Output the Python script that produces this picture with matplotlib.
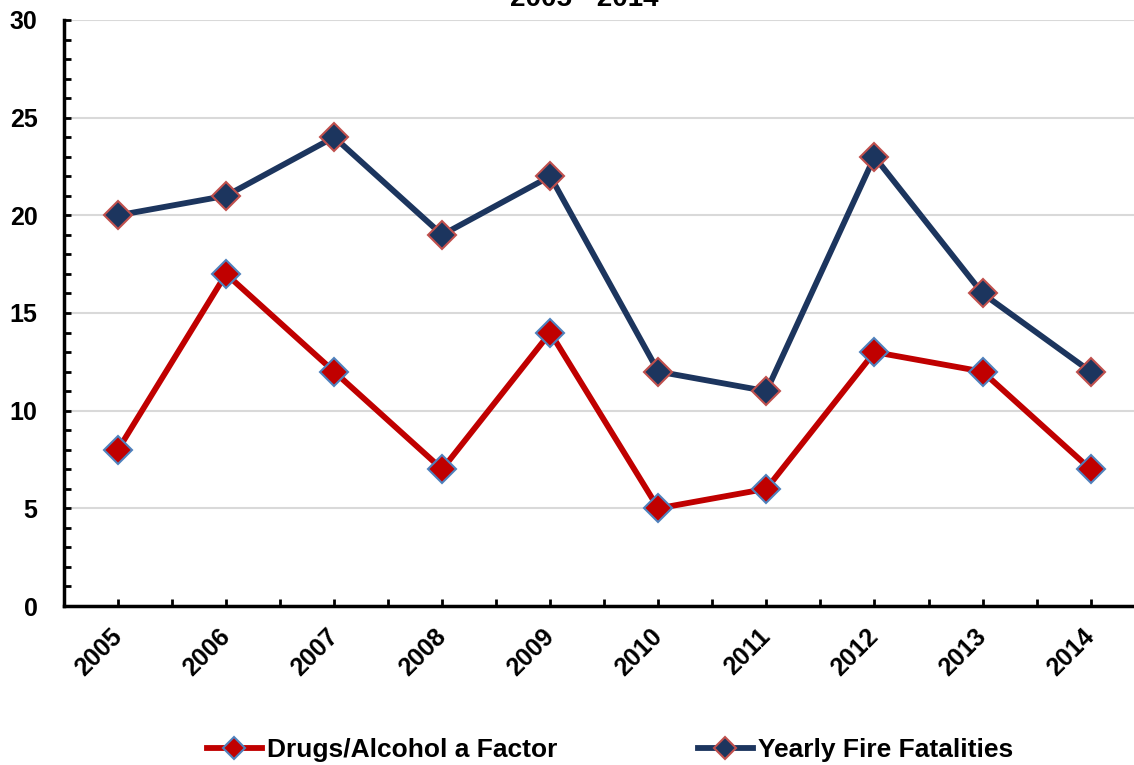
import matplotlib.pyplot as plt
from matplotlib.lines import Line2D
from matplotlib.ticker import MultipleLocator

years = ['2005', '2006', '2007', '2008', '2009', '2010', '2011', '2012', '2013', '2014']
drugs_alcohol = [8, 17, 12, 7, 14, 5, 6, 13, 12, 7]
fire_fatalities = [20, 21, 24, 19, 22, 12, 11, 23, 16, 12]

red = '#C00000'
navy = '#1C355E'

plt.rcParams['font.family'] = ['Liberation Sans', 'DejaVu Sans']
plt.rcParams['font.weight'] = 'bold'

fig = plt.figure(figsize=(11.34, 7.65), dpi=100)
ax = fig.add_axes([0.0564, 0.2078, 0.953, 0.7661])

x = list(range(1, len(years) + 1))
ax.plot(x, fire_fatalities, color=navy, lw=4.2, marker='D', ms=14,
        mfc=navy, mec='#C0504D', mew=1.5, zorder=3)
ax.plot(x, drugs_alcohol, color=red, lw=4.2, marker='D', ms=14,
        mfc=red, mec='#4F81BD', mew=1.5, zorder=3)

ax.set_xlim(0.5, 10.5)
ax.set_ylim(0, 30)
ax.yaxis.set_major_locator(MultipleLocator(5))
ax.yaxis.set_minor_locator(MultipleLocator(1))
ax.set_xticks(x)
ax.set_xticks([i + 0.5 for i in range(len(years))], minor=True)
ax.set_xticklabels(years, rotation=45, ha='right', va='center', rotation_mode='anchor')

ax.tick_params(axis='y', which='both', direction='in', length=5, width=2,
               labelsize=18, pad=19)
ax.tick_params(axis='x', which='both', direction='in', length=5, width=2,
               labelsize=18, pad=19)

ax.grid(axis='y', color='#D9D9D9', lw=1.5)
ax.set_axisbelow(True)
for side in ['top', 'right']:
    ax.spines[side].set_visible(False)
for side in ['left', 'bottom']:
    ax.spines[side].set_linewidth(2.5)
    ax.spines[side].set_color('black')

# subtitle sits mostly above the top edge
fig.text(0.515, 1 - 6 / 765, '2005 - 2014', ha='center', va='baseline',
         fontsize=20, fontweight='bold')

handles = [
    Line2D([], [], color=red, lw=4.2, marker='D', ms=11, mfc=red, mec='#4F81BD', mew=1.5),
    Line2D([], [], color=navy, lw=4.2, marker='D', ms=11, mfc=navy, mec='#C0504D', mew=1.5),
]
fig.legend(handles, ['Drugs/Alcohol a Factor', 'Yearly Fire Fatalities'],
           loc='center', bbox_to_anchor=(0.538, 0.019), ncol=2, frameon=False,
           fontsize=19, handlelength=2.1, handletextpad=0.2, columnspacing=5.3,
           borderpad=0)

fig.savefig('out.png', dpi=100)
